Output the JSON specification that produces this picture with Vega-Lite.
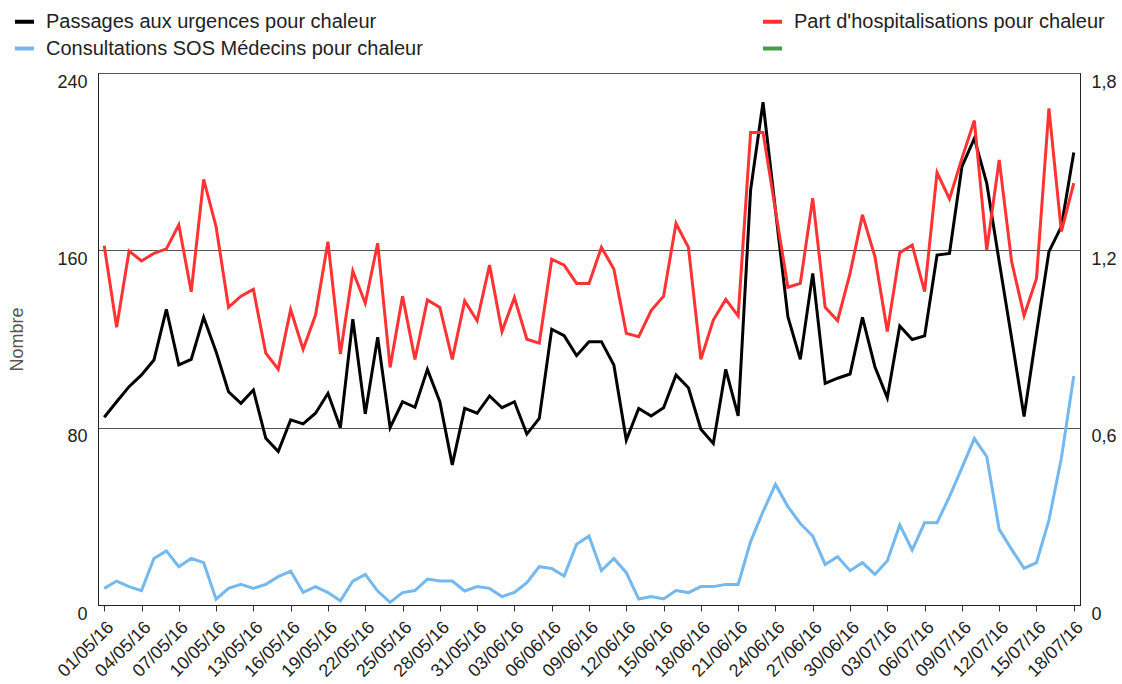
{
  "$schema": "https://vega.github.io/schema/vega-lite/v6.json",
  "width": 982,
  "height": 532,
  "autosize": {"type": "none"},
  "padding": {"left": 98, "top": 73, "right": 42, "bottom": 79},
  "background": "white",
  "config": {
    "font": "Liberation Sans",
    "view": {"stroke": "#333", "strokeWidth": 1},
    "axis": {"labelFont": "Liberation Sans", "labelFontSize": 18, "labelColor": "#222", "domainColor": "#333", "tickColor": "#333", "gridColor": "#555", "gridOpacity": 1}
  },
  "data": {"values": [
    {"date": "01/05/16", "passages": 84.7, "part": 1.216, "sos": 7.5},
    {"date": "02/05/16", "passages": 91.7, "part": 0.94, "sos": 10.8},
    {"date": "03/05/16", "passages": 98.5, "part": 1.198, "sos": 8.3},
    {"date": "04/05/16", "passages": 103.8, "part": 1.164, "sos": 6.5},
    {"date": "05/05/16", "passages": 110.5, "part": 1.19, "sos": 21},
    {"date": "06/05/16", "passages": 133.4, "part": 1.205, "sos": 24.4},
    {"date": "07/05/16", "passages": 108.3, "part": 1.286, "sos": 17.3},
    {"date": "08/05/16", "passages": 110.8, "part": 1.06, "sos": 21},
    {"date": "09/05/16", "passages": 129.8, "part": 1.44, "sos": 19.1},
    {"date": "10/05/16", "passages": 114.3, "part": 1.28, "sos": 2.6},
    {"date": "11/05/16", "passages": 96.2, "part": 1.007, "sos": 7.5},
    {"date": "12/05/16", "passages": 91, "part": 1.045, "sos": 9.3},
    {"date": "13/05/16", "passages": 97, "part": 1.068, "sos": 7.5},
    {"date": "14/05/16", "passages": 75.2, "part": 0.852, "sos": 9.3},
    {"date": "15/05/16", "passages": 69.2, "part": 0.798, "sos": 12.8},
    {"date": "16/05/16", "passages": 83.5, "part": 1.0, "sos": 15.3},
    {"date": "17/05/16", "passages": 81.7, "part": 0.865, "sos": 5.7},
    {"date": "18/05/16", "passages": 86.5, "part": 0.981, "sos": 8.3},
    {"date": "19/05/16", "passages": 95.5, "part": 1.229, "sos": 5.6},
    {"date": "20/05/16", "passages": 80, "part": 0.849, "sos": 1.9},
    {"date": "21/05/16", "passages": 128.9, "part": 1.13, "sos": 10.8},
    {"date": "22/05/16", "passages": 86.2, "part": 1.021, "sos": 13.8},
    {"date": "23/05/16", "passages": 120.8, "part": 1.224, "sos": 6.3},
    {"date": "24/05/16", "passages": 80, "part": 0.804, "sos": 1.2},
    {"date": "25/05/16", "passages": 91.7, "part": 1.045, "sos": 5.6},
    {"date": "26/05/16", "passages": 89.2, "part": 0.831, "sos": 6.5},
    {"date": "27/05/16", "passages": 106.3, "part": 1.032, "sos": 11.7},
    {"date": "28/05/16", "passages": 91.7, "part": 1.007, "sos": 10.8},
    {"date": "29/05/16", "passages": 63.2, "part": 0.831, "sos": 10.8},
    {"date": "30/05/16", "passages": 88.7, "part": 1.029, "sos": 6.3},
    {"date": "31/05/16", "passages": 86.5, "part": 0.962, "sos": 8.3},
    {"date": "01/06/16", "passages": 94.3, "part": 1.15, "sos": 7.5},
    {"date": "02/06/16", "passages": 89, "part": 0.925, "sos": 3.8},
    {"date": "03/06/16", "passages": 91.7, "part": 1.04, "sos": 5.7},
    {"date": "04/06/16", "passages": 77.1, "part": 0.899, "sos": 10.1},
    {"date": "05/06/16", "passages": 84.2, "part": 0.886, "sos": 17.3},
    {"date": "06/06/16", "passages": 124.4, "part": 1.17, "sos": 16.5},
    {"date": "07/06/16", "passages": 121.5, "part": 1.15, "sos": 13.1},
    {"date": "08/06/16", "passages": 112.5, "part": 1.088, "sos": 27.4},
    {"date": "09/06/16", "passages": 118.8, "part": 1.088, "sos": 31.1},
    {"date": "10/06/16", "passages": 118.8, "part": 1.21, "sos": 15.5},
    {"date": "11/06/16", "passages": 108.3, "part": 1.137, "sos": 21},
    {"date": "12/06/16", "passages": 74.4, "part": 0.919, "sos": 14.6},
    {"date": "13/06/16", "passages": 88.7, "part": 0.908, "sos": 2.7},
    {"date": "14/06/16", "passages": 85.3, "part": 0.996, "sos": 3.8},
    {"date": "15/06/16", "passages": 89, "part": 1.045, "sos": 2.7},
    {"date": "16/06/16", "passages": 103.8, "part": 1.291, "sos": 6.5},
    {"date": "17/06/16", "passages": 98, "part": 1.21, "sos": 5.6},
    {"date": "18/06/16", "passages": 79.3, "part": 0.831, "sos": 8.3},
    {"date": "19/06/16", "passages": 72.9, "part": 0.964, "sos": 8.3},
    {"date": "20/06/16", "passages": 106.3, "part": 1.034, "sos": 9.3},
    {"date": "21/06/16", "passages": 85.3, "part": 0.978, "sos": 9.3},
    {"date": "22/06/16", "passages": 187.2, "part": 1.599, "sos": 28.6},
    {"date": "23/06/16", "passages": 226.8, "part": 1.599, "sos": 42.1},
    {"date": "24/06/16", "passages": 178.2, "part": 1.336, "sos": 54.4},
    {"date": "25/06/16", "passages": 130.1, "part": 1.075, "sos": 44.4},
    {"date": "26/06/16", "passages": 110.8, "part": 1.088, "sos": 36.8},
    {"date": "27/06/16", "passages": 149.6, "part": 1.376, "sos": 31.1},
    {"date": "28/06/16", "passages": 100, "part": 1.007, "sos": 18.3},
    {"date": "29/06/16", "passages": 102.3, "part": 0.962, "sos": 21.8},
    {"date": "30/06/16", "passages": 104.2, "part": 1.122, "sos": 15.5},
    {"date": "01/07/16", "passages": 129.8, "part": 1.32, "sos": 19.1},
    {"date": "02/07/16", "passages": 107.5, "part": 1.179, "sos": 13.8},
    {"date": "03/07/16", "passages": 93.5, "part": 0.925, "sos": 20},
    {"date": "04/07/16", "passages": 125.9, "part": 1.192, "sos": 36.1},
    {"date": "05/07/16", "passages": 119.8, "part": 1.218, "sos": 24.8},
    {"date": "06/07/16", "passages": 121.4, "part": 1.06, "sos": 37.1},
    {"date": "07/07/16", "passages": 157.9, "part": 1.463, "sos": 37.1},
    {"date": "08/07/16", "passages": 158.6, "part": 1.374, "sos": 48.9},
    {"date": "09/07/16", "passages": 197.7, "part": 1.511, "sos": 61.9},
    {"date": "10/07/16", "passages": 210.5, "part": 1.639, "sos": 75.2},
    {"date": "11/07/16", "passages": 190.2, "part": 1.201, "sos": 66.9},
    {"date": "12/07/16", "passages": 154.9, "part": 1.506, "sos": 34.1},
    {"date": "13/07/16", "passages": 120.3, "part": 1.162, "sos": 25.1},
    {"date": "14/07/16", "passages": 85, "part": 0.979, "sos": 16.5},
    {"date": "15/07/16", "passages": 122.6, "part": 1.105, "sos": 19.1},
    {"date": "16/07/16", "passages": 159.4, "part": 1.68, "sos": 38.3},
    {"date": "17/07/16", "passages": 170.7, "part": 1.263, "sos": 66.2},
    {"date": "18/07/16", "passages": 204.1, "part": 1.427, "sos": 103.3}
  ]},
  "encoding": {
    "x": {
      "field": "date", "type": "ordinal", "sort": null,
      "scale": {"type": "point", "padding": 0.5},
      "axis": {
        "title": null, "grid": false, "labelAngle": -45, "labelAlign": "right", "labelBaseline": "top",
        "tickSize": 6, "labelPadding": 7, "domainColor": "#222",
        "values": ["01/05/16","04/05/16","07/05/16","10/05/16","13/05/16","16/05/16","19/05/16","22/05/16","25/05/16","28/05/16","31/05/16","03/06/16","06/06/16","09/06/16","12/06/16","15/06/16","18/06/16","21/06/16","24/06/16","27/06/16","30/06/16","03/07/16","06/07/16","09/07/16","12/07/16","15/07/16","18/07/16"]
      }
    }
  },
  "layer": [
    {
      "layer": [
        {
          "mark": {"type": "line", "strokeWidth": 3},
          "encoding": {
            "y": {"field": "passages", "type": "quantitative", "scale": {"domain": [0, 240]},
              "axis": {"title": "Nombre", "values": [0, 80, 160, 240], "grid": true, "ticks": false, "labelBaseline": "top", "labelPadding": 11, "domainColor": "#222",
                "titleFontSize": 18, "titleColor": "#555", "titleFontWeight": "normal", "titleFont": "Liberation Sans", "titleX": -81, "titleY": 266, "titleAngle": -90, "titleAlign": "center", "titleBaseline": "middle"}},
            "color": {"datum": "Passages aux urgences pour chaleur", "type": "nominal",
              "scale": {"domain": ["Passages aux urgences pour chaleur", "Consultations SOS Médecins pour chaleur", "Part d'hospitalisations pour chaleur", "aucun"], "range": ["#000000", "#74b8f0", "#ff3333", "#43a047"]},
              "legend": {"orient": "none", "legendX": -85, "legendY": -63, "columns": 2, "columnPadding": 332, "rowPadding": 5, "title": null, "padding": 0,
                "symbolType": "stroke", "symbolStrokeWidth": 4, "symbolSize": 360, "labelOffset": 10, "labelFontSize": 20, "labelFont": "Liberation Sans", "labelColor": "#222", "labelLimit": 600,
                "labelExpr": "datum.label == 'aucun' ? '' : datum.label"}}
          }
        },
        {
          "mark": {"type": "line", "strokeWidth": 3},
          "encoding": {
            "y": {"field": "sos", "type": "quantitative", "scale": {"domain": [0, 240]}, "axis": {"title": "Nombre"}},
            "color": {"datum": "Consultations SOS Médecins pour chaleur", "type": "nominal"}
          }
        }
      ]
    },
    {
      "mark": {"type": "line", "strokeWidth": 3},
      "encoding": {
        "y": {"field": "part", "type": "quantitative", "scale": {"domain": [0, 1.8]},
          "axis": {"orient": "right", "title": null, "values": [0, 0.6, 1.2, 1.8], "grid": false, "ticks": false, "labelBaseline": "top", "labelPadding": 11, "domainColor": "#222",
            "labelExpr": "datum.value == 0 ? '0' : replace(format(datum.value, '.1f'), '.', ',')"}},
        "color": {"datum": "Part d'hospitalisations pour chaleur", "type": "nominal"}
      }
    }
  ],
  "resolve": {"scale": {"y": "independent"}}
}
